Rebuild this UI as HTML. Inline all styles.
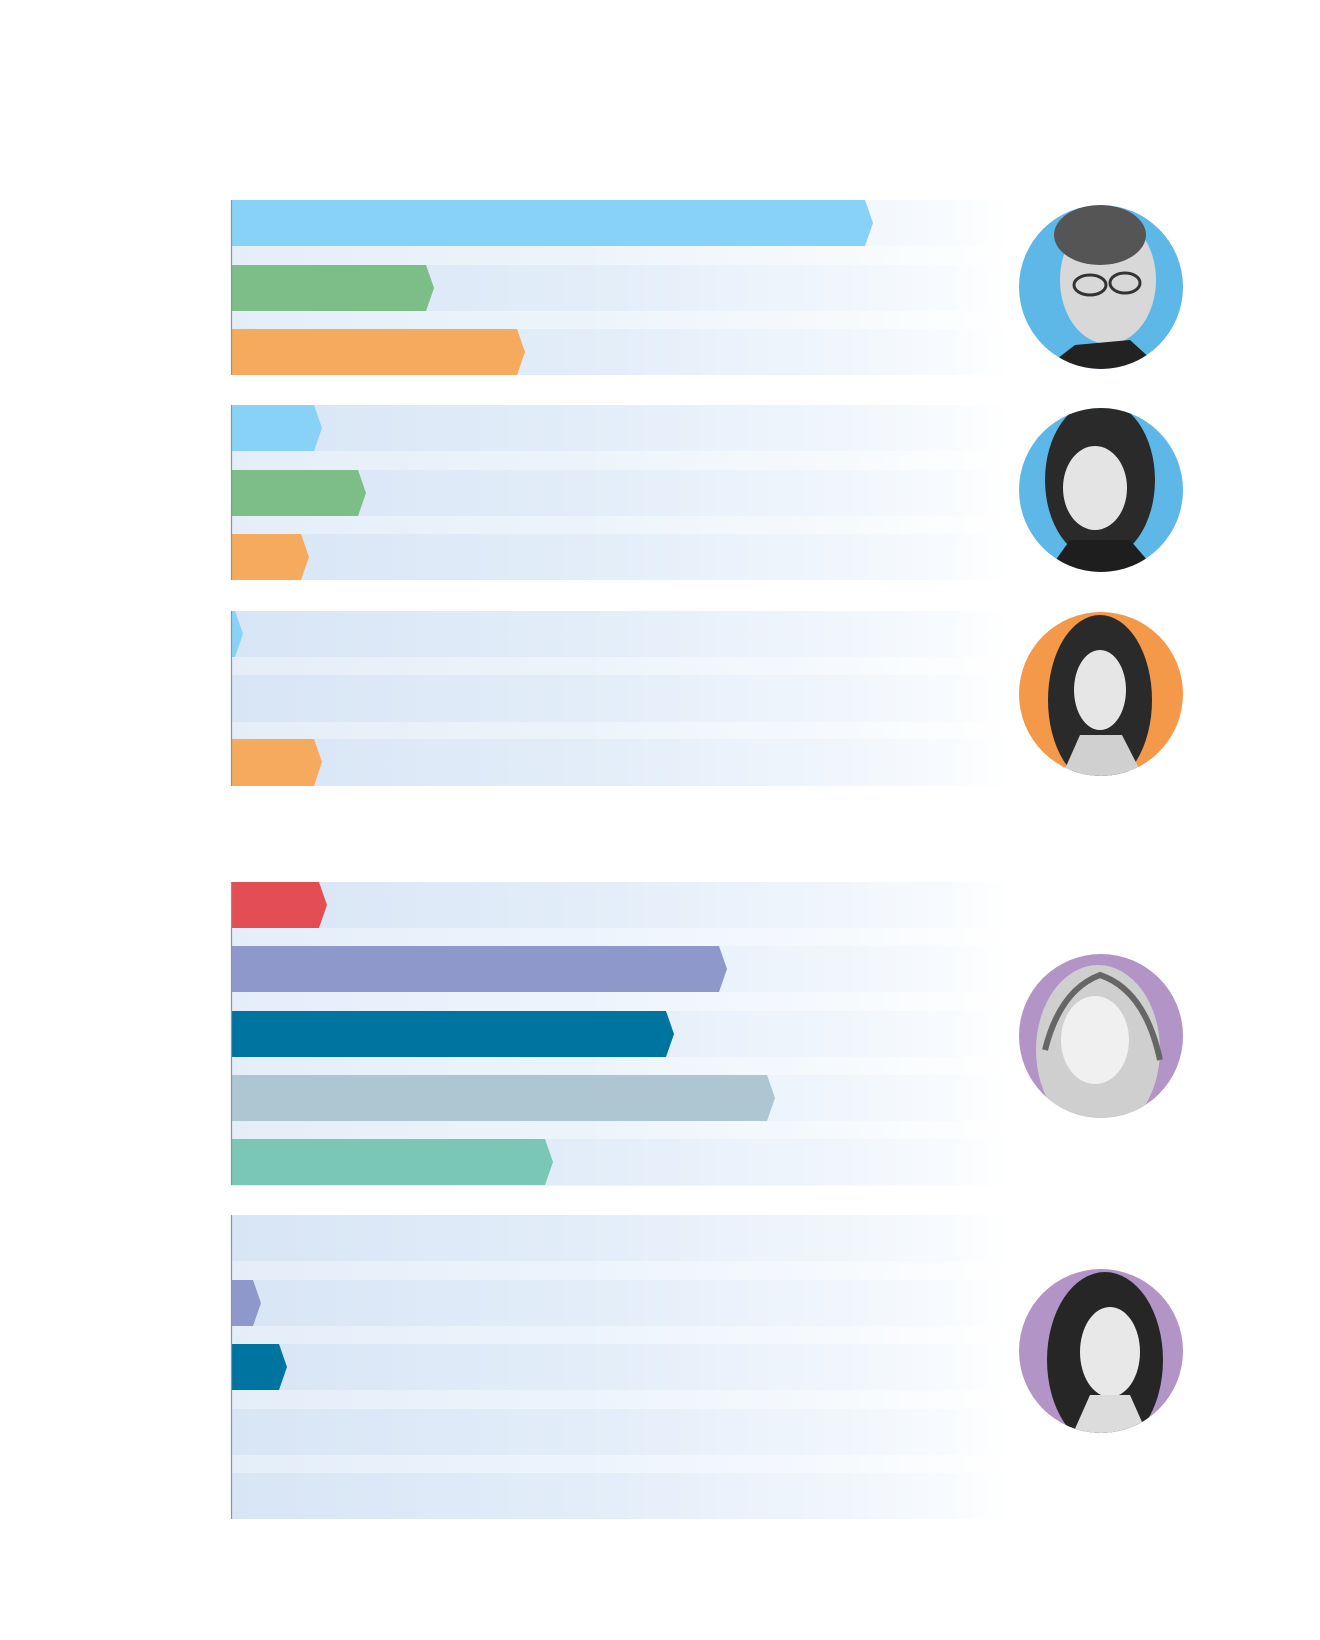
<!DOCTYPE html>
<html><head><meta charset="utf-8"><style>html,body{margin:0;padding:0;background:#fff;}svg{display:block}</style></head>
<body>
<svg width="1320" height="1640" viewBox="0 0 1320 1640" xmlns="http://www.w3.org/2000/svg">
<defs>
<linearGradient id="row" x1="231" x2="1011" y1="0" y2="0" gradientUnits="userSpaceOnUse">
<stop offset="0" stop-color="#d8e5f5"/><stop offset="0.45" stop-color="#e2edf9"/><stop offset="0.75" stop-color="#eff5fc"/><stop offset="0.92" stop-color="#f8fbfe"/><stop offset="1" stop-color="#ffffff"/>
</linearGradient>
<linearGradient id="gap" x1="231" x2="1011" y1="0" y2="0" gradientUnits="userSpaceOnUse">
<stop offset="0" stop-color="#e5edf9"/><stop offset="0.45" stop-color="#ecf4fb"/><stop offset="0.8" stop-color="#f7fafd"/><stop offset="1" stop-color="#ffffff"/>
</linearGradient>
<clipPath id="c1"><circle cx="1101" cy="287" r="82"/></clipPath>
<clipPath id="c2"><circle cx="1101" cy="490" r="82"/></clipPath>
<clipPath id="c3"><circle cx="1101" cy="694" r="82"/></clipPath>
<clipPath id="c4"><circle cx="1101" cy="1036" r="82"/></clipPath>
<clipPath id="c5"><circle cx="1101" cy="1351" r="82"/></clipPath>
</defs>

<!-- group backgrounds -->
<g>
<rect x="231" y="200" width="780" height="175" fill="url(#gap)"/>
<rect x="231" y="200" width="780" height="46" fill="url(#row)"/>
<rect x="231" y="265" width="780" height="46" fill="url(#row)"/>
<rect x="231" y="329" width="780" height="46" fill="url(#row)"/>

<rect x="231" y="405" width="780" height="175" fill="url(#gap)"/>
<rect x="231" y="405" width="780" height="46" fill="url(#row)"/>
<rect x="231" y="470" width="780" height="46" fill="url(#row)"/>
<rect x="231" y="534" width="780" height="46" fill="url(#row)"/>

<rect x="231" y="611" width="780" height="175" fill="url(#gap)"/>
<rect x="231" y="611" width="780" height="46" fill="url(#row)"/>
<rect x="231" y="675" width="780" height="47" fill="url(#row)"/>
<rect x="231" y="739" width="780" height="47" fill="url(#row)"/>

<rect x="231" y="882" width="780" height="304" fill="url(#gap)"/>
<rect x="231" y="882" width="780" height="46" fill="url(#row)"/>
<rect x="231" y="946" width="780" height="46" fill="url(#row)"/>
<rect x="231" y="1011" width="780" height="46" fill="url(#row)"/>
<rect x="231" y="1075" width="780" height="46" fill="url(#row)"/>
<rect x="231" y="1139" width="780" height="46" fill="url(#row)"/>

<rect x="231" y="1215" width="780" height="304" fill="url(#gap)"/>
<rect x="231" y="1215" width="780" height="46" fill="url(#row)"/>
<rect x="231" y="1280" width="780" height="46" fill="url(#row)"/>
<rect x="231" y="1344" width="780" height="46" fill="url(#row)"/>
<rect x="231" y="1409" width="780" height="46" fill="url(#row)"/>
<rect x="231" y="1473" width="780" height="46" fill="url(#row)"/>
</g>

<!-- bars -->
<g>
<polygon points="231,200 865,200 873,223 865,246 231,246" fill="#88d2f7"/>
<polygon points="231,265 426,265 434,288 426,311 231,311" fill="#7dbd87"/>
<polygon points="231,329 517,329 525,352 517,375 231,375" fill="#f6aa5e"/>

<polygon points="231,405 314,405 322,428 314,451 231,451" fill="#88d2f7"/>
<polygon points="231,470 358,470 366,493 358,516 231,516" fill="#7dbd87"/>
<polygon points="231,534 301,534 309,557 301,580 231,580" fill="#f6aa5e"/>

<polygon points="231,611 235,611 243,634 235,657 231,657" fill="#88d2f7"/>
<polygon points="231,739 314,739 322,762 314,786 231,786" fill="#f6aa5e"/>

<polygon points="231,882 319,882 327,905 319,928 231,928" fill="#e34e55"/>
<polygon points="231,946 719,946 727,969 719,992 231,992" fill="#8f98cb"/>
<polygon points="231,1011 666,1011 674,1034 666,1057 231,1057" fill="#0074a0"/>
<polygon points="231,1075 767,1075 775,1098 767,1121 231,1121" fill="#adc6d1"/>
<polygon points="231,1139 545,1139 553,1162 545,1185 231,1185" fill="#7ac7b6"/>

<polygon points="231,1280 253,1280 261,1303 253,1326 231,1326" fill="#8f98cb"/>
<polygon points="231,1344 279,1344 287,1367 279,1390 231,1390" fill="#0074a0"/>
</g>

<!-- axis lines -->
<g stroke="#8a93a0" stroke-width="1.2">
<line x1="231.5" y1="200" x2="231.5" y2="375"/>
<line x1="231.5" y1="405" x2="231.5" y2="580"/>
<line x1="231.5" y1="611" x2="231.5" y2="786"/>
<line x1="231.5" y1="882" x2="231.5" y2="1185"/>
<line x1="231.5" y1="1215" x2="231.5" y2="1519"/>
</g>

<!-- portraits -->
<g>
<circle cx="1101" cy="287" r="82" fill="#5db8e8"/>
<g clip-path="url(#c1)">
<ellipse cx="1108" cy="280" rx="48" ry="64" fill="#d8d8d8"/>
<ellipse cx="1100" cy="235" rx="46" ry="30" fill="#555"/>
<path d="M1040,372 L1075,345 L1130,340 L1165,372 Z" fill="#222"/>
<ellipse cx="1090" cy="285" rx="16" ry="10" fill="none" stroke="#333" stroke-width="3"/>
<ellipse cx="1125" cy="283" rx="15" ry="10" fill="none" stroke="#333" stroke-width="3"/>
</g>

<circle cx="1101" cy="490" r="82" fill="#5db8e8"/>
<g clip-path="url(#c2)">
<ellipse cx="1100" cy="480" rx="55" ry="80" fill="#2a2a2a"/>
<ellipse cx="1095" cy="488" rx="32" ry="42" fill="#e4e4e4"/>
<path d="M1045,575 L1070,540 L1130,540 L1160,575 Z" fill="#1e1e1e"/>
</g>

<circle cx="1101" cy="694" r="82" fill="#f4994a"/>
<g clip-path="url(#c3)">
<ellipse cx="1100" cy="700" rx="52" ry="85" fill="#2a2a2a"/>
<ellipse cx="1100" cy="690" rx="26" ry="40" fill="#e6e6e6"/>
<path d="M1060,780 L1080,735 L1122,735 L1145,780 Z" fill="#d0d0d0"/>
</g>

<circle cx="1101" cy="1036" r="82" fill="#b294c7"/>
<g clip-path="url(#c4)">
<ellipse cx="1098" cy="1050" rx="62" ry="85" fill="#cfcfcf"/>
<ellipse cx="1095" cy="1040" rx="34" ry="44" fill="#f0f0f0"/>
<path d="M1045,1050 Q1060,990 1100,975 Q1145,990 1160,1060" fill="none" stroke="#666" stroke-width="6"/>
</g>

<circle cx="1101" cy="1351" r="82" fill="#b294c7"/>
<g clip-path="url(#c5)">
<ellipse cx="1105" cy="1360" rx="58" ry="88" fill="#262626"/>
<ellipse cx="1110" cy="1352" rx="30" ry="45" fill="#e8e8e8"/>
<path d="M1070,1440 L1090,1395 L1130,1395 L1150,1440 Z" fill="#dcdcdc"/>
</g>
</g>
</svg>
</body></html>
